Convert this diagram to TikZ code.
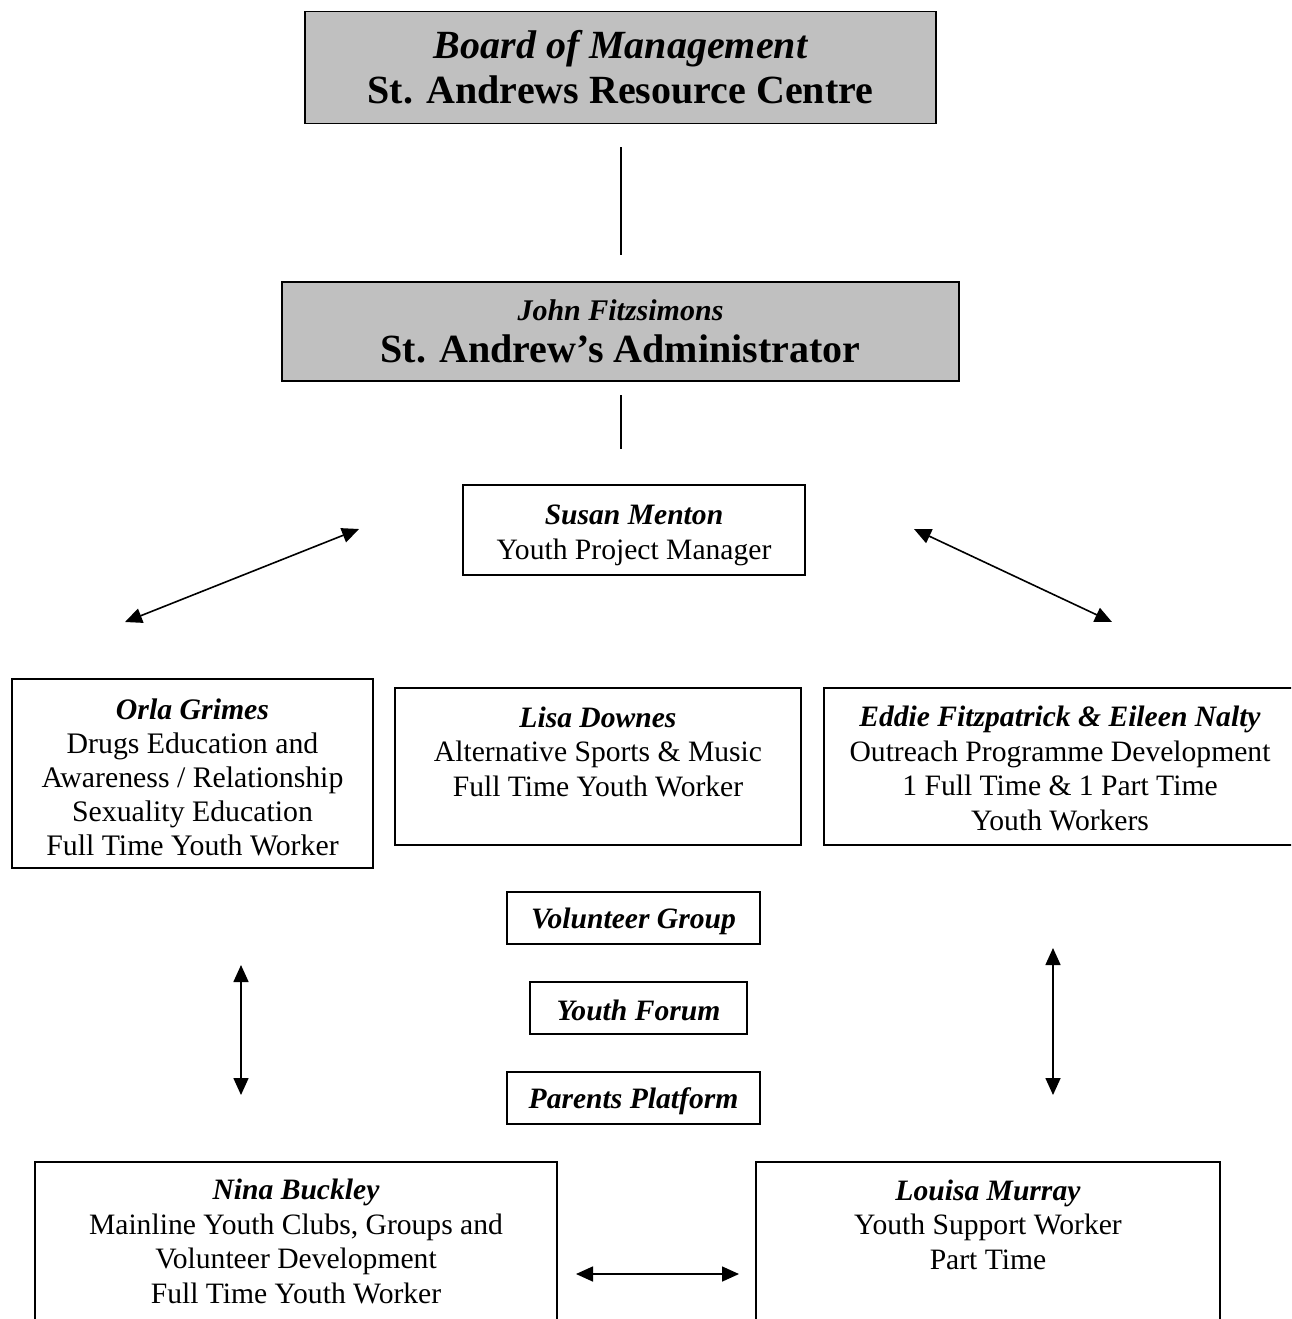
\documentclass[tikz,border=0pt]{standalone}
\usepackage{fontspec}
\setmainfont{Liberation Serif}
\usetikzlibrary{arrows.meta}
\definecolor{boxgray}{RGB}{192,192,192}
\begin{document}
\begin{tikzpicture}[x=1pt,y=-1pt,
  box/.style={draw, line width=1.4pt, inner sep=0pt, align=center},
  gbox/.style={box, fill=boxgray},
  txt/.style={inner sep=0pt, align=center, font=\fontsize{29.6}{34.5}\selectfont},
  stxt/.style={inner sep=0pt, font=\fontsize{29.6}{34}\selectfont\bfseries\itshape},
  conn/.style={line width=1.4pt},
  dbl/.style={line width=1.6pt, {Triangle[length=17pt,width=15pt]}-{Triangle[length=17pt,width=15pt]}}
]
\useasboundingbox (0,0) rectangle (1291,1319);
\clip (0,0) rectangle (1291,1319);

% top boxes
\node[gbox, minimum width=631, minimum height=112, font=\fontsize{40}{45}\selectfont\bfseries] (board) at (620.5,67.5)
  {\itshape Board of Management\\ St. Andrews Resource Centre};
\node[gbox, minimum width=677, minimum height=99, font=\fontsize{40}{40}\selectfont\bfseries] (admin) at (620.5,331.5)
  {{\fontsize{30}{34}\selectfont\itshape John Fitzsimons}\\[2pt] St. Andrew’s Administrator};
\node[box, minimum width=342, minimum height=90] (susan) at (634,530) {};
\node[txt, font=\fontsize{29.6}{35}\selectfont] (susantxt) at (634,535.5)
  {\textbf{\textit{Susan Menton}}\\ Youth Project Manager};

\coordinate (v1a) at (621,147);
\coordinate (v1b) at (621,255);
\coordinate (v2a) at (621,395);
\coordinate (v2b) at (621,449);
\draw[conn] (v1a) -- (v1b);
\draw[conn] (v2a) -- (v2b);

% diagonal arrows
\coordinate (dl1) at (125,622);
\coordinate (dl2) at (359,529);
\coordinate (dr1) at (914,529);
\coordinate (dr2) at (1112,622);
\draw[dbl] (dl1) -- (dl2);
\draw[dbl] (dr1) -- (dr2);

% middle row
\node[box, minimum width=361, minimum height=189] (orla) at (192.5,773.5) {};
\node[txt, font=\fontsize{29.8}{34}\selectfont] (orlatxt) at (192.5,777.5)
  {\textbf{\textit{Orla Grimes}}\\ Drugs Education and\\ Awareness / Relationship\\ Sexuality Education\\ Full Time Youth Worker};
\node[box, minimum width=406, minimum height=157] (lisa) at (598,766.5) {};
\node[txt] (lisatxt) at (598,751.5)
  {\textbf{\textit{Lisa Downes}}\\ Alternative Sports \& Music\\ Full Time Youth Worker};
\node[box, minimum width=480, minimum height=157] (eddie) at (1064,766.5) {};
\node[txt] (eddietxt) at (1060,768.5)
  {\textbf{\textit{Eddie Fitzpatrick \& Eileen Nalty}}\\ Outreach Programme Development\\ 1 Full Time \& 1 Part Time\\ Youth Workers};

% small boxes
\node[box, minimum width=253, minimum height=52] (vol) at (633.5,918) {};
\node[stxt] (voltxt) at (633.5,921) {Volunteer Group};
\node[box, minimum width=217, minimum height=52] (forum) at (638.5,1008) {};
\node[stxt] (forumtxt) at (638.5,1010) {Youth Forum};
\node[box, minimum width=253, minimum height=52] (parents) at (633.5,1098) {};
\node[stxt] (parentstxt) at (633.5,1101) {Parents Platform};

% vertical arrows
\coordinate (vl1) at (241,965);
\coordinate (vl2) at (241,1095);
\coordinate (vr1) at (1053,948);
\coordinate (vr2) at (1053,1095);
\draw[dbl] (vl1) -- (vl2);
\draw[dbl] (vr1) -- (vr2);

% bottom row
\node[box, minimum width=522, minimum height=180] (nina) at (296,1252) {};
\node[txt] (ninatxt) at (296,1241.5)
  {\textbf{\textit{Nina Buckley}}\\ Mainline Youth Clubs, Groups and\\ Volunteer Development\\ Full Time Youth Worker};
\node[box, minimum width=464, minimum height=180] (louisa) at (988,1252) {};
\node[txt] (louisatxt) at (988,1224.5)
  {\textbf{\textit{Louisa Murray}}\\ Youth Support Worker\\ Part Time};

\coordinate (h1) at (576,1274);
\coordinate (h2) at (739,1274);
\draw[dbl] (h1) -- (h2);
\end{tikzpicture}
\end{document}
